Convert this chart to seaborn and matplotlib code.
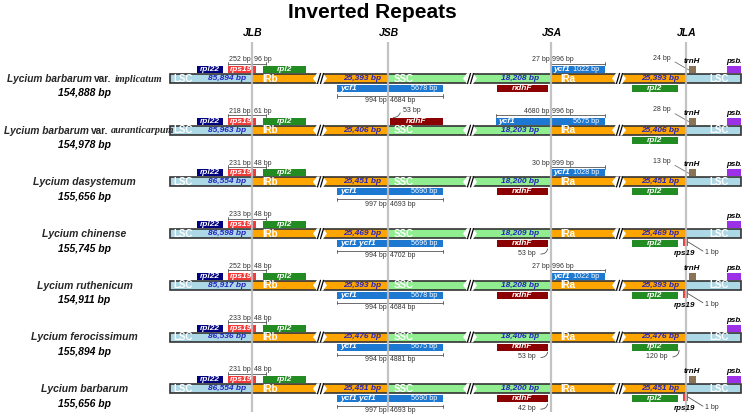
import numpy as np
import pandas as pd
import matplotlib
matplotlib.use("Agg")
import matplotlib.pyplot as plt
import seaborn as sns
from matplotlib.patches import Rectangle, Polygon, FancyArrowPatch
from matplotlib.transforms import Bbox, TransformedBbox

sns.set_theme(style="white")
plt.rcParams['font.family'] = ['Liberation Sans', 'DejaVu Sans']

# ---------------- data ----------------
species = ["Lycium barbarum var. implicatum", "Lycium barbarum var. auranticarpum",
           "Lycium dasystemum", "Lycium chinense", "Lycium ruthenicum",
           "Lycium ferocissimum", "Lycium barbarum"]
genome_bp = [154888, 154978, 155656, 155745, 154911, 155894, 155656]
lsc_bp = [85894, 85963, 86554, 86598, 85917, 86536, 86554]
irb_bp = [25393, 25406, 25451, 25469, 25393, 25476, 25451]
ssc_bp = [18208, 18203, 18200, 18209, 18208, 18406, 18200]
ira_bp = [25393, 25406, 25451, 25469, 25393, 25476, 25451]

rps19_lsc_bp = [252, 218, 231, 233, 252, 233, 231]
rps19_ir_bp = [96, 61, 48, 48, 48, 48, 48]

ycf1_jsb_ir = [994, None, 997, 994, 994, 994, 997]
ycf1_jsb_ssc = [4684, None, 4693, 4702, 4684, 4881, 4693]
ycf1_jsb_len = [5678, None, 5690, 5696, 5678, 5675, 5690]
ycf1_jsb_name = ["ycf1", None, "ycf1", "ycf1 ycf1", "ycf1", "ycf1", "ycf1 ycf1"]
ndhF_jsb_gap = [None, 53, None, None, None, None, None]

ycf1_jsa_ssc = [27, 4680, 30, None, 27, None, None]
ycf1_jsa_ir = [996, 996, 999, None, 996, None, None]
ycf1_jsa_len = [1022, 5675, 1028, None, 1022, None, None]
ndhF_jsa_present = [True, False, True, True, True, True, True]
ndhF_jsa_gap = [None, None, None, 53, None, 53, 42]

rpl2_jla_gap = [None, None, None, None, None, 120, None]
rps19_jla_bp = [None, None, None, 1, 1, None, 1]
trnH_present = [True, True, True, False, True, False, True]
trnH_jla_bp = [24, 28, 13, None, None, None, None]

junctions = ["JLB", "JSB", "JSA", "JLA"]
title = "Inverted Repeats"

# ---------------- layout ----------------
W, H = 745, 418
X_START, X_JLB, X_JSB, X_JSA, X_JLA, X_END = 170, 252, 388, 551, 686, 741
BREAKS = [313, 463, 612]
ROW0, ROW_STEP = 78.5, 51.7
NAME_X = 84.5

C_LSC, C_IR, C_SSC = "#ADD8E6", "#FFA500", "#90EE90"
C_RPL22, C_RPS19, C_RPL2 = "#000080", "#F23A3A", "#228B22"
C_YCF1, C_NDHF, C_TRNH, C_PSBA = "#1C78D0", "#8B0000", "#8B7355", "#9B30E6"
C_BP = "#2424C0"
C_SMALL = "#333333"

fig = plt.figure(figsize=(W / 100, H / 100), dpi=100)
ax = fig.add_axes([0, 0, 1, 1])
ax.set_xlim(0, W)
ax.set_ylim(H, 0)
ax.axis('off')


def rect(x0, x1, y0, y1, color, z=3):
    ax.add_patch(Rectangle((x0, y0), x1 - x0, y1 - y0, facecolor=color,
                           edgecolor='none', zorder=z))


def txt(x, y, s, size, color='black', ha='center', va='center',
        weight='normal', style='normal', z=10, **kw):
    return ax.text(x, y, s, fontsize=size, color=color, ha=ha, va=va,
                   fontweight=weight, fontstyle=style, zorder=z, **kw)


SMALL = 5.0


def bracket(x0, xm, x1, y, ltxt, rtxt, above=True):
    ax.plot([x0, x1], [y, y], color='#555555', lw=0.6, zorder=6)
    for xx in (x0, xm, x1):
        ax.plot([xx, xx], [y - 1.6, y + 1.6], color='#555555', lw=0.6, zorder=6)
    if above:
        txt(xm - 1.5, y - 0.3, ltxt, SMALL, C_SMALL, ha='right', va='bottom')
        txt(xm + 1.5, y - 0.3, rtxt, SMALL, C_SMALL, ha='left', va='bottom')
    else:
        txt(xm - 1.5, y + 1.2, ltxt, SMALL, C_SMALL, ha='right', va='top')
        txt(xm + 1.5, y + 1.2, rtxt, SMALL, C_SMALL, ha='left', va='top')


def curve(p0, p1, rad):
    ax.add_patch(FancyArrowPatch(p0, p1, arrowstyle='-', color='#555555', lw=0.6,
                                 connectionstyle=f"arc3,rad={rad}", zorder=6))


renderer = fig.canvas.get_renderer()


def species_label(name, yc):
    if " var. " in name:
        base, epi = name.split(" var. ")
        parts = [(base, 7.3, dict(fontweight='bold', fontstyle='italic')),
                 ("var.", 7.3, dict(fontweight='bold', fontstyle='normal')),
                 (epi, 7.3, dict(fontweight='bold', fontstyle='italic',
                                 family=['Liberation Serif', 'DejaVu Serif']))]
    else:
        parts = [(name, 7.5, dict(fontweight='bold', fontstyle='italic'))]
    objs = [ax.text(0, yc, s, fontsize=fs, va='center', ha='left', zorder=10, **kw)
            for s, fs, kw in parts]
    widths = [o.get_window_extent(renderer).width for o in objs]
    gap = 2.5
    total = sum(widths) + gap * (len(objs) - 1)
    x = max(NAME_X - total / 2, 4)
    for o, w in zip(objs, widths):
        o.set_x(x)
        x += w + gap


# title and junction labels
txt(W / 2, 17.5, title, 15, 'black', va='baseline', weight='bold')
for jx, jl in zip([X_JLB, X_JSB, X_JSA, X_JLA], junctions):
    txt(jx + 1, 33, jl, 7.5, 'black', weight='bold', style='italic')
ax.vlines([X_JLB, X_JSB, X_JSA, X_JLA], 42, 412, color='#BDBDBD', lw=1.6,
          zorder=8, alpha=0.9)

clip = TransformedBbox(Bbox([[0, 0], [X_END, H]]), ax.transData)

GENE = 6.0
BARTXT = 7.0
BPTXT = 6.0

for i in range(len(species)):
    yc = ROW0 + i * ROW_STEP
    # species name and size
    species_label(species[i], yc + 0.5)
    txt(NAME_X, yc + 15, f"{genome_bp[i]:,} bp", 7.5, 'black', weight='bold', style='italic')

    # bar segments
    segs = [(X_START, X_JLB, C_LSC), (X_JLB, X_JSB, C_IR), (X_JSB, X_JSA, C_SSC),
            (X_JSA, X_JLA, C_IR), (X_JLA, X_END, C_LSC)]
    for x0, x1, c in segs:
        rect(x0, x1, yc - 4.5, yc + 4.5, c, z=3)
    ax.add_patch(Rectangle((X_START, yc - 4.5), X_END - X_START, 9, fill=False,
                           edgecolor='#333333', lw=1.2, zorder=4))
    for bx in BREAKS:
        ax.add_patch(Polygon([(bx, yc), (bx + 4, yc - 5.4), (bx + 10, yc - 5.4),
                              (bx + 14, yc), (bx + 10, yc + 5.4), (bx + 4, yc + 5.4)],
                             closed=True, facecolor='white', edgecolor='none', zorder=5))
        ax.plot([bx + 4.5, bx + 7.5], [yc + 5, yc - 5], color='black', lw=0.9, zorder=6)
        ax.plot([bx + 7.5, bx + 10.5], [yc + 5, yc - 5], color='black', lw=0.9, zorder=6)

    # labels inside bar
    txt(183, yc, "LSC", BARTXT, 'white', weight='bold')
    txt(227, yc, f"{lsc_bp[i]:,} bp", BPTXT, C_BP, weight='bold', style='italic')
    txt(262, yc, "IRb", BARTXT, 'white', ha='left', weight='bold')
    txt(362, yc, f"{irb_bp[i]:,} bp", BPTXT, C_BP, weight='bold', style='italic')
    txt(394, yc, "SSC", BARTXT, 'white', ha='left', weight='bold')
    txt(520, yc, f"{ssc_bp[i]:,} bp", BPTXT, C_BP, weight='bold', style='italic')
    txt(560, yc, "IRa", BARTXT, 'white', ha='left', weight='bold')
    txt(660, yc, f"{ira_bp[i]:,} bp", BPTXT, C_BP, weight='bold', style='italic')
    txt(719, yc, "LSC", BARTXT, 'white', weight='bold')

    up0, up1 = yc - 12.5, yc - 5.5
    dn0, dn1 = yc + 6.5, yc + 13.5
    upc, dnc = (up0 + up1) / 2, (dn0 + dn1) / 2

    # JLB genes
    rect(197, 223, up0, up1, C_RPL22)
    txt(210, upc, "rpl22", GENE, 'white', weight='bold', style='italic')
    rect(228, 256, up0, up1, C_RPS19)
    txt(241, upc, "rps19", GENE, 'white', weight='bold', style='italic')
    rect(263, 306, up0, up1, C_RPL2)
    txt(284.5, upc, "rpl2", GENE, 'white', weight='bold', style='italic')
    bracket(228, X_JLB, 266, yc - 15, f"{rps19_lsc_bp[i]} bp", f"{rps19_ir_bp[i]} bp")

    # JSB
    if ycf1_jsb_len[i] is not None:
        rect(337, 443, dn0, dn1, C_YCF1)
        txt(340, dnc, ycf1_jsb_name[i], GENE, 'white', ha='left', weight='bold', style='italic')
        txt(437, dnc, f"{ycf1_jsb_len[i]} bp", 5.2, 'white', ha='right')
        bracket(337, X_JSB, 443, yc + 17.5, f"{ycf1_jsb_ir[i]} bp",
                f"{ycf1_jsb_ssc[i]} bp", above=False)
    if ndhF_jsb_gap[i] is not None:
        rect(390, 443, up0, up1, C_NDHF)
        txt(416.5, upc, "ndhF", GENE, 'white', weight='bold', style='italic')
        curve((401, yc - 20), (390.5, yc - 13), -0.5)
        txt(403, yc - 20, f"{ndhF_jsb_gap[i]} bp", SMALL, C_SMALL, ha='left')

    # JSA
    if ycf1_jsa_len[i] is not None:
        x0 = 551 if ycf1_jsa_ssc[i] < 1000 else 496
        rect(x0, 605, up0, up1, C_YCF1)
        txt(x0 + 2, upc, "ycf1", GENE, 'white', ha='left', weight='bold', style='italic')
        txt(599, upc, f"{ycf1_jsa_len[i]} bp", 5.2, 'white', ha='right')
        bracket(x0 if x0 < 550 else 549.5, X_JSA, 605, yc - 15,
                f"{ycf1_jsa_ssc[i]} bp", f"{ycf1_jsa_ir[i]} bp")
    if ndhF_jsa_present[i]:
        rect(497, 548, dn0, dn1, C_NDHF)
        txt(522.5, dnc, "ndhF", GENE, 'white', weight='bold', style='italic')
    if ndhF_jsa_gap[i] is not None:
        curve((548, dn1 - 1), (538, yc + 20), -0.6)
        txt(536, yc + 20, f"{ndhF_jsa_gap[i]} bp", SMALL, C_SMALL, ha='right')

    # JLA
    rect(632, 678, dn0, dn1, C_RPL2)
    txt(655, dnc, "rpl2", GENE, 'white', weight='bold', style='italic')
    if rpl2_jla_gap[i] is not None:
        curve((679, dn1 - 3), (670, yc + 20), -0.6)
        txt(668, yc + 20, f"{rpl2_jla_gap[i]} bp", SMALL, C_SMALL, ha='right')
    if rps19_jla_bp[i] is not None:
        rect(683, 687.5, yc + 5.5, yc + 12.5, C_RPS19)
        txt(685, yc + 20, "rps19", 5.8, 'black', weight='bold', style='italic')
        ax.plot([687.5, 703], [yc + 8, yc + 17.5], color='#555555', lw=0.6, zorder=6)
        txt(705, yc + 19, f"{rps19_jla_bp[i]} bp", SMALL, C_SMALL, ha='left')
    if trnH_present[i]:
        rect(689, 695.5, up0, up1, C_TRNH)
        txt(692, yc - 17, "trnH", 5.8, 'black', weight='bold', style='italic')
    if trnH_jla_bp[i] is not None:
        ax.plot([675, 689], [yc - 16.5, yc - 8.5], color='#777777', lw=0.6, zorder=6)
        txt(671, yc - 20.5, f"{trnH_jla_bp[i]} bp", SMALL, C_SMALL, ha='right')
    rect(727, 741, up0, up1, C_PSBA)
    t = txt(726, yc - 17, "psbA", 5.8, 'black', ha='left', weight='bold', style='italic')
    t.set_clip_box(clip)
    t.set_clip_on(True)

fig.savefig("out.png", dpi=100)
